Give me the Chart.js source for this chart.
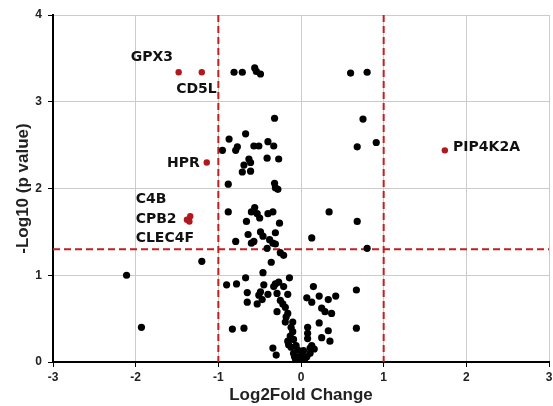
<!DOCTYPE html>
<html>
<head>
<meta charset="utf-8">
<script src="https://cdn.jsdelivr.net/npm/chart.js@4/dist/chart.umd.min.js"></script>
<style>
  html, body { margin: 0; padding: 0; background: #fff; }
  #volcano { display: block; }
</style>
</head>
<body>
<canvas id="volcano" width="553" height="406"></canvas>
<script>
// 火山図 (volcano plot) - log2 fold change vs -log10 p

// 非有意のタンパク質 (黒)
const otherX = [
  -0.81, -0.71, -0.56, -0.54, -0.49, 0.60, 0.80,
  -0.32, 0.75,
  -0.67, -0.87, -0.95, -0.77, -0.79, -0.57, -0.51, -0.40, -0.33, 0.68, 0.91,
  -0.63, -0.41, -0.27, -0.69, -0.61, -0.71, -0.61,
  -0.88, -0.32, -0.31, -0.28,
  -0.88, -0.56, -0.60, -0.53, -0.50, -0.40, -0.34, -0.66, -0.26, 0.34, 0.68,
  -0.64, -0.49, -0.46, -0.31, -0.79, -0.60, -0.57, -0.38, -0.34, 0.13, -0.41, -0.31, -0.25, 0.80,
  -0.21, -0.36, -1.20, -0.46, -2.11,
  -0.67, -0.14, -0.90, -0.78, -0.45, -0.31, -0.27, -0.33, -0.21, 0.15, 0.67,
  -0.65, -0.49, -0.51, -0.40, -0.29, -0.16, -0.65, -0.53, -0.47, -0.25, -0.22, 0.07, 0.13, 0.22, 0.33, 0.42,
  -0.19, -0.29, 0.25, 0.29, -0.16, 0.37,
  -0.19, -0.10, -0.83, -0.69, -0.12, -0.10, 0.08, 0.22, 0.08, 0.33, 0.67, -1.93,
  -0.16, -0.09, 0.25, 0.08, 0.35, -0.34, -0.12, -0.06, 0.03, 0.11, 0.13, 0.16,
  -0.30, -0.09, -0.03, 0.01, -0.02, -0.07, 0.07, 0.11, 0.00,
  -0.18, -0.13, -0.15, -0.04, -0.08, 0.04
];
const otherY = [
  3.34, 3.34, 3.39, 3.35, 3.32, 3.33, 3.34,
  2.81, 2.80,
  2.63, 2.57, 2.44, 2.48, 2.44, 2.49, 2.49, 2.54, 2.49, 2.48, 2.53,
  2.34, 2.35, 2.34, 2.27, 2.30, 2.19, 2.20,
  2.05, 2.06, 2.01, 1.99,
  1.73, 1.78, 1.73, 1.71, 1.66, 1.71, 1.73, 1.62, 1.60, 1.73, 1.62,
  1.47, 1.50, 1.45, 1.49, 1.39, 1.37, 1.39, 1.41, 1.37, 1.43, 1.31, 1.36, 1.26, 1.31,
  1.23, 1.15, 1.16, 1.03, 1.00,
  0.97, 0.97, 0.89, 0.90, 0.89, 0.90, 0.92, 0.87, 0.87, 0.87, 0.83,
  0.80, 0.81, 0.77, 0.78, 0.79, 0.78, 0.69, 0.67, 0.72, 0.71, 0.67, 0.74, 0.69, 0.76, 0.72, 0.76,
  0.63, 0.58, 0.62, 0.58, 0.56, 0.56,
  0.46, 0.46, 0.38, 0.39, 0.40, 0.35, 0.40, 0.45, 0.33, 0.36, 0.39, 0.40,
  0.24, 0.26, 0.28, 0.27, 0.24, 0.16, 0.17, 0.19, 0.13, 0.16, 0.19, 0.15,
  0.08, 0.10, 0.06, 0.08, 0.01, 0.04, 0.06, 0.10, 0.04,
  0.52, 0.30, 0.20, 0.14, 0.07, 0.02
];

// 強調するタンパク質 (赤)
const hitNames = ['GPX3', 'CD5L', 'HPR', 'C4B', 'CPB2', 'CLEC4F', 'PIP4K2A'];
const hitX = [-1.48, -1.20, -1.14, -1.34, -1.38, -1.35, 1.74];
const hitY = [3.34, 3.34, 2.30, 1.68, 1.64, 1.62, 2.44];

// ラベルの位置 (データ座標, 左端と中心)
const labelTexts = ['GPX3', 'CD5L', 'HPR', 'C4B', 'CPB2', 'CLEC4F', 'PIP4K2A'];
const labelX = [-2.06, -1.51, -1.62, -2.00, -2.00, -2.00, 1.84];
const labelY = [3.51, 3.14, 2.29, 1.88, 1.65, 1.43, 2.48];

// しきい値
const fcCutoffs = [-1, 1];
const pCutoff = 1.3;

const xTicks = [-3, -2, -1, 0, 1, 2, 3];
const yTicks = [0, 1, 2, 3, 4];

const toPoints = (xs, ys) => xs.map((x, i) => ({ x: x, y: ys[i] }));

const cutoffPlugin = {
  id: 'cutoffs',
  beforeDatasetsDraw(chart) {
    const { ctx, chartArea, scales } = chart;
    ctx.save();
    ctx.strokeStyle = '#c41e1e';
    ctx.lineWidth = 2;
    ctx.setLineDash([7, 4]);
    fcCutoffs.forEach(v => {
      const px = scales.x.getPixelForValue(v);
      ctx.beginPath();
      ctx.moveTo(px, chartArea.top);
      ctx.lineTo(px, chartArea.bottom);
      ctx.stroke();
    });
    const py = scales.y.getPixelForValue(pCutoff);
    ctx.beginPath();
    ctx.moveTo(chartArea.left, py);
    ctx.lineTo(chartArea.right, py);
    ctx.stroke();
    ctx.restore();
  },
  afterDatasetsDraw(chart) {
    const { ctx, scales } = chart;
    ctx.save();
    ctx.fillStyle = '#111';
    ctx.font = 'bold 14px "DejaVu Sans", Arial, sans-serif';
    ctx.textAlign = 'left';
    ctx.textBaseline = 'middle';
    labelTexts.forEach((t, i) => {
      ctx.fillText(t, scales.x.getPixelForValue(labelX[i]), scales.y.getPixelForValue(labelY[i]));
    });
    ctx.restore();
  }
};

new Chart(document.getElementById('volcano'), {
  type: 'scatter',
  data: {
    datasets: [
      {
        label: 'その他',
        data: toPoints(otherX, otherY),
        backgroundColor: '#000',
        borderColor: '#000',
        pointRadius: 3.6,
        pointBorderWidth: 0
      },
      {
        label: 'hits',
        data: toPoints(hitX, hitY),
        backgroundColor: '#b0171f',
        borderColor: '#b0171f',
        pointRadius: 3.2,
        pointBorderWidth: 0
      }
    ]
  },
  options: {
    responsive: false,
    animation: false,
    layout: { padding: { top: 15, right: 0, left: 0, bottom: 0 } },
    plugins: {
      legend: { display: false },
      tooltip: { enabled: false }
    },
    scales: {
      x: {
        type: 'linear',
        min: -3,
        max: 3,
        afterBuildTicks: s => { s.ticks = xTicks.map(v => ({ value: v })); },
        afterFit: s => { s.height = 44; s.paddingRight = 0; s.paddingLeft = 0; },
        ticks: {
          color: '#222',
          font: { family: 'Arial, "Liberation Sans", sans-serif', size: 12, weight: 'bold' },
          padding: 3
        },
        grid: { color: '#cbcbcb', tickColor: '#000', tickLength: 5, lineWidth: 1 },
        border: { color: '#000', width: 2 },
        title: {
          display: true,
          text: 'Log2Fold Change',
          color: '#222',
          font: { family: 'Arial, "Liberation Sans", sans-serif', size: 17, weight: 'bold' },
          padding: { top: 0, bottom: 0 }
        }
      },
      y: {
        type: 'linear',
        min: 0,
        max: 4,
        afterBuildTicks: s => { s.ticks = yTicks.map(v => ({ value: v })); },
        afterFit: s => { s.width = 53; s.paddingTop = 0; s.paddingBottom = 0; },
        ticks: {
          color: '#222',
          font: { family: 'Arial, "Liberation Sans", sans-serif', size: 12, weight: 'bold' },
          padding: 6
        },
        grid: { color: '#cbcbcb', tickColor: '#000', tickLength: 5, lineWidth: 1 },
        border: { color: '#000', width: 2 },
        title: {
          display: true,
          text: '-Log10 (p value)',
          color: '#222',
          font: { family: 'Arial, "Liberation Sans", sans-serif', size: 17, weight: 'bold' },
          padding: { top: 13, bottom: 0 }
        }
      }
    }
  },
  plugins: [cutoffPlugin]
});
</script>
</body>
</html>
